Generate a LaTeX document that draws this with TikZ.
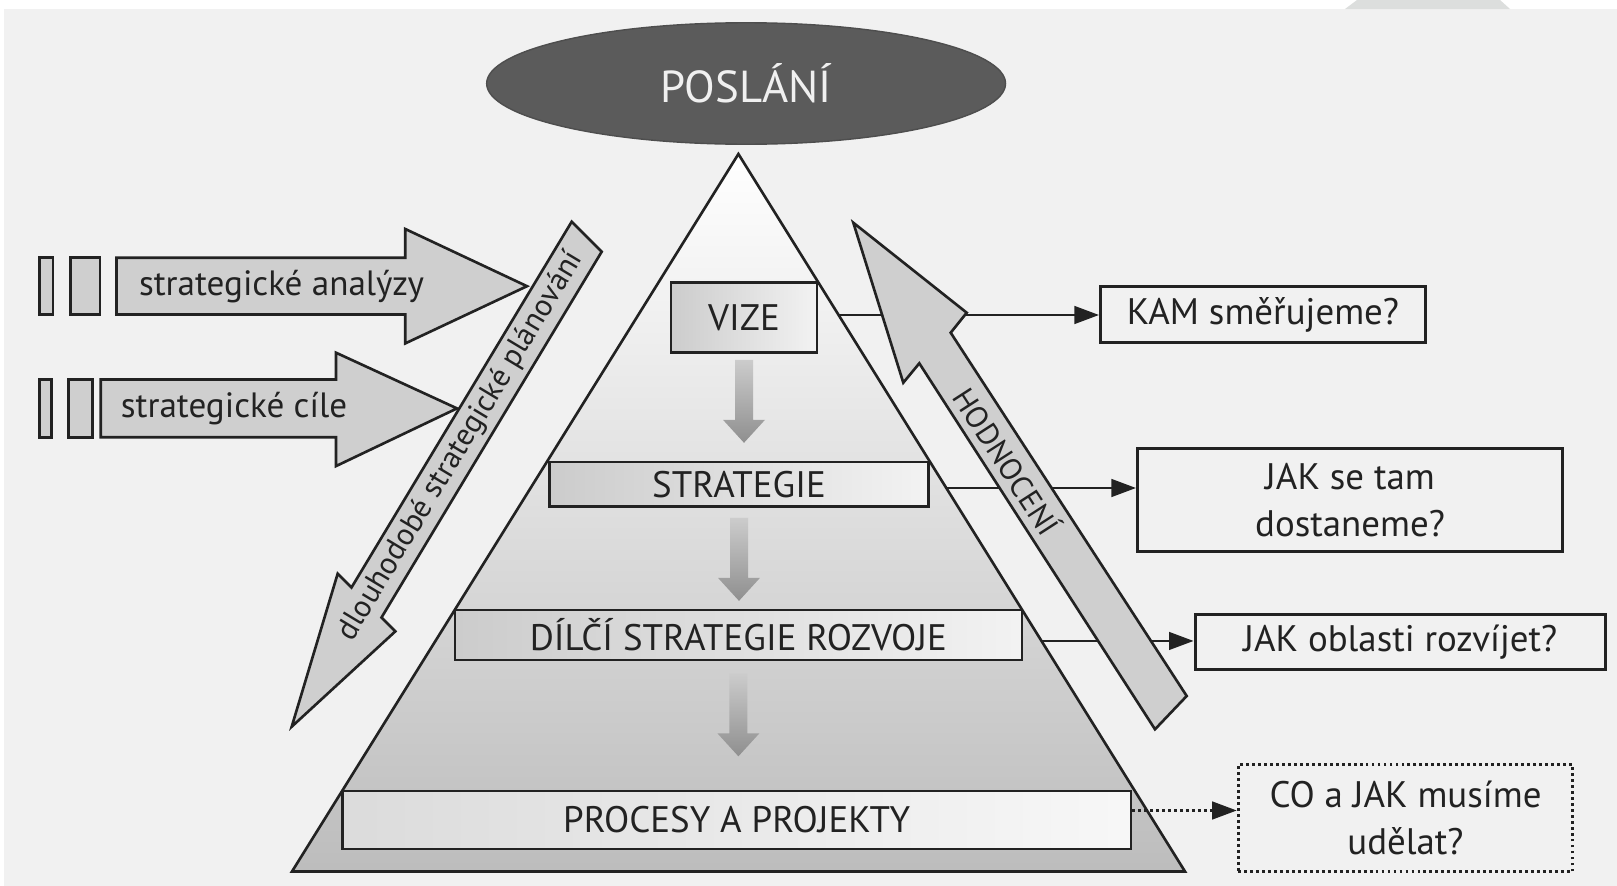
\documentclass[tikz,border=0pt]{standalone}
\usepackage{fontspec}
\setmainfont{PT Sans}
\usetikzlibrary{arrows.meta,calc,shapes.geometric}
\definecolor{page}{HTML}{F1F1F1}
\definecolor{ink}{HTML}{222222}
\definecolor{panel}{HTML}{CFCFCF}
\definecolor{mission}{HTML}{5B5B5B}
\definecolor{curl}{HTML}{DCDEDD}

% grey block arrow pointing down from a given coordinate
\newcommand{\stepdown}[1]{%
  \shade[top color=gray!40, middle color=gray!85, bottom color=gray!88]
    ($(#1)+(-9,0)$) -- ($(#1)+(9,0)$) -- ($(#1)+(9,60)$) -- ($(#1)+(21,60)$)
    -- ($(#1)+(0,83)$) -- ($(#1)+(-21,60)$) -- ($(#1)+(-9,60)$) -- cycle;}

\begin{document}
\begin{tikzpicture}[x=0.02cm,y=-0.02cm,
  outline/.style={draw=ink, line width=1.5pt, line join=miter},
  levelbox/.style={outline, left color=gray!40, right color=gray!10, inner sep=0pt,
    text=ink, font=\fontsize{21}{25}\selectfont},
  answer/.style={outline, line width=1.7pt, inner sep=0pt, align=center, text=ink,
    font=\fontsize{21}{27}\selectfont},
  link/.style={draw=ink, line width=1.5pt, -{Triangle[length=14pt,width=10pt]}},
  dotlink/.style={link, dash pattern=on 1.6pt off 1.8pt},
  block/.style={outline, fill=panel},
  blocklabel/.style={text=ink, inner sep=0pt, font=\fontsize{20}{24}\selectfont},
  slantlabel/.style={text=ink, inner sep=0pt, font=\fontsize{#1}{#1}\selectfont}]

% page
\useasboundingbox (0,0) rectangle (1617,886);
\fill[white] (0,0) rectangle (1617,886);
\fill[page] (4,9) rectangle (1617,886);
\fill[curl] (1357,0) -- (1500,0) -- (1510,9) -- (1345,9) -- cycle;

% pyramid
\coordinate (apex) at (738.4,154);
\coordinate (bl) at (292,871.5);
\coordinate (br) at (1185,871.5);
\path[outline, top color=white, bottom color=gray!52] (apex) -- (bl) -- (br) -- cycle;

% levels
\node[levelbox, minimum width=2.92cm, minimum height=1.40cm] (vize) at (744,317.5) {VIZE};
\node[levelbox, minimum width=7.57cm, minimum height=0.89cm] (strategie) at (739,484.3) {STRATEGIE};
\node[levelbox, minimum width=11.34cm, minimum height=1.0cm] (dilci) at (738.4,635) {DÍLČÍ STRATEGIE ROZVOJE};
\node[levelbox, left color=gray!28, right color=gray!6, minimum width=15.77cm, minimum height=1.16cm] (procesy) at (736.7,820) {PROCESY A PROJEKTY};

% flow between levels
\coordinate (d1) at ($(vize.south)+(0,6)$);
\coordinate (d2) at ($(strategie.south)+(0,10)$);
\coordinate (d3) at ($(dilci.south)+(0,12)$);
\stepdown{d1}
\stepdown{d2}
\stepdown{d3}

% questions
\node[answer, minimum width=6.5cm, minimum height=1.11cm] (kam) at (1263,314.7) {KAM směřujeme?};
\node[answer, minimum width=8.5cm, minimum height=2.06cm] (jak) at (1350,500) {JAK se tam\\dostaneme?};
\node[answer, minimum width=8.21cm, minimum height=1.10cm] (oblasti) at (1400.3,642) {JAK oblasti rozvíjet?};
\node[answer, dash pattern=on 1.6pt off 1.8pt, minimum width=6.69cm, minimum height=2.13cm] (co) at (1405.5,818.2) {CO a JAK musíme\\udělat?};

% links from the pyramid edge to the questions
\coordinate (e1) at ($(apex)!0.2244!(br)$);
\coordinate (e2) at ($(apex)!0.4655!(br)$);
\coordinate (e3) at ($(apex)!0.6787!(br)$);
\draw[link] (e1) -- (e1 -| kam.west);
\draw[link] (e2) -- (e2 -| jak.west);
\draw[link] (e3) -- (e3 -| oblasti.west);
\coordinate (e4) at ($(procesy.east)+(0,-9.5)$);
\draw[dotlink] (e4) -- (e4 -| co.west);

% mission
\node[ellipse, draw=ink!80, line width=0.8pt, fill=mission, minimum width=10.38cm, minimum height=2.43cm,
  text=white!94!black, font=\fontsize{25.5}{30}\selectfont] (poslani) at (746.1,83.5) {POSLÁNÍ};

% inputs on the left
\draw[block] (39.5,257.8) rectangle (53,314.5);
\draw[block] (70.4,257.8) rectangle (100,314.5);
\draw[block] (116.5,257.8) -- (405.3,257.8) -- (405.3,229) -- (527,286.2)
  -- (405.3,343.4) -- (405.3,314.5) -- (116.5,314.5) -- cycle;
\draw[block] (39.5,379.5) rectangle (51.5,437.3);
\draw[block] (68.4,379.5) rectangle (92.5,437.3);
\draw[block] (100.8,379.5) -- (336,379.5) -- (336,352.7) -- (457,408.4)
  -- (336,466.1) -- (336,437.3) -- (100.8,437.3) -- cycle;
\node[blocklabel] (analyzy) at (281.5,286.2) {strategické analýzy};
\node[blocklabel] (cile) at (234,408.4) {strategické cíle};

% long-term planning arrow
\draw[block] (571.7,221.7) -- (351.5,587.5) -- (337.7,573.6) -- (291.7,726.7)
  -- (395.3,631.4) -- (381.5,617.5) -- (601.7,251.7) -- cycle;
\node[slantlabel=17.6, rotate=59] (planovani) at (461,446) {dlouhodobé strategické plánování};

% evaluation arrow
\draw[block] (1155,729.3) -- (919.3,363.3) -- (903.3,382.7) -- (853.3,222.7)
  -- (966.7,312.7) -- (950.7,332.7) -- (1186.7,696) -- cycle;
\node[slantlabel=17.5, rotate=-57.1] (hodnoceni) at (1008,460.6) {HODNOCENÍ};

\end{tikzpicture}
\end{document}
